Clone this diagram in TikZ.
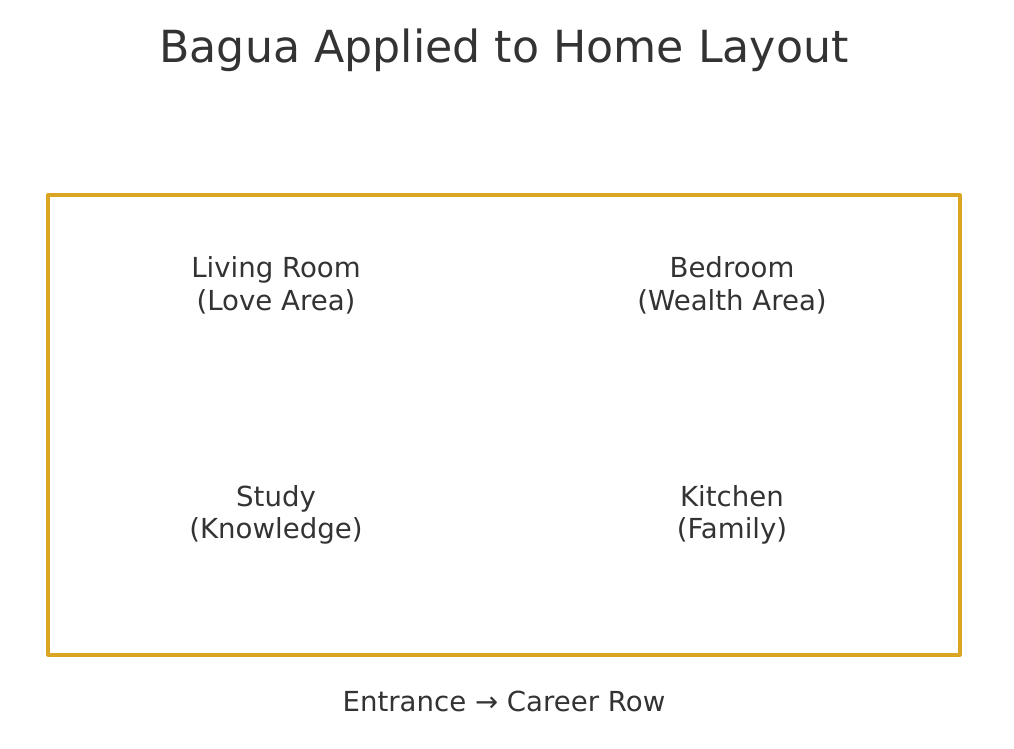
\documentclass[tikz,border=0pt]{standalone}
\usepackage{fontspec}
\setmainfont{DejaVu Sans}
\usepackage{tikz}
\definecolor{txtgray}{HTML}{333333}
\definecolor{gold}{HTML}{DAA520}

\begin{document}
\begin{tikzpicture}[x=0.75pt, y=-0.75pt,
	room/.style={text=txtgray, align=center, font=\fontsize{20.7}{24.5}\selectfont},
	title/.style={text=txtgray, font=\fontsize{33.2}{38}\selectfont}]
\useasboundingbox (0,0) rectangle (1014,749);

\node[title] (heading) at (504, 50) {Bagua Applied to Home Layout};

\draw[gold, line width=2.4pt, line join=round] (48, 195) rectangle (960, 655);

\node[room] (living) at (276, 285) {Living Room\\(Love Area)};
\node[room] (bedroom) at (732, 285) {Bedroom\\(Wealth Area)};
\node[room] (study) at (276, 515) {Study\\(Knowledge)};
\node[room] (kitchen) at (732, 515) {Kitchen\\(Family)};

\node[room] (entrance) at (504, 701.5) {Entrance → Career Row};
\end{tikzpicture}
\end{document}
